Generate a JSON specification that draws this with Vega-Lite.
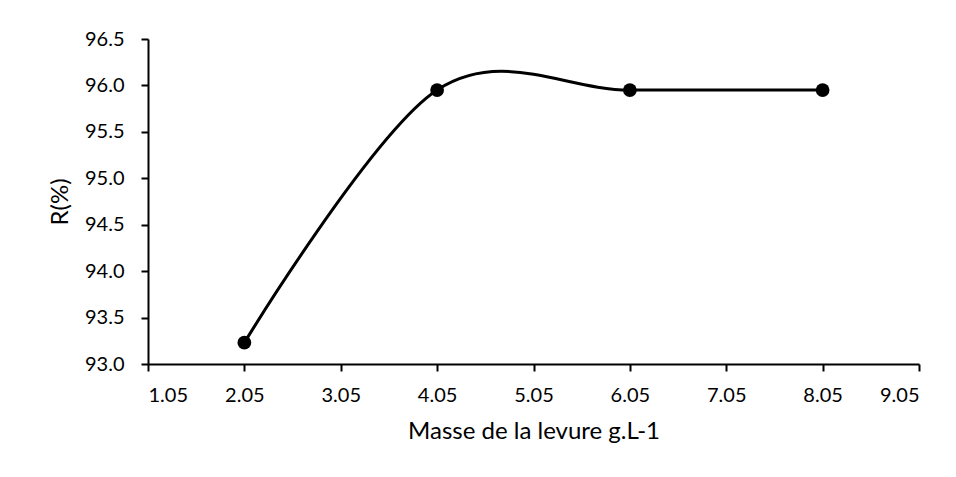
{
  "$schema": "https://vega.github.io/schema/vega-lite/v6.json",
  "width": 771,
  "height": 325,
  "autosize": {"type": "none"},
  "padding": {"left": 148, "top": 39, "right": 37, "bottom": 113},
  "background": "white",
  "config": {"view": {"stroke": null}, "font": "Lato"},
  "data": {"values": [
    {"x": 2.05, "r": 93.23},
    {"x": 4.05, "r": 95.95},
    {"x": 6.05, "r": 95.95},
    {"x": 8.05, "r": 95.95}
  ]},
  "encoding": {
    "x": {"field": "x", "type": "quantitative",
      "scale": {"domain": [1.05, 9.05], "nice": false, "zero": false},
      "axis": {"values": [1.05, 2.05, 3.05, 4.05, 5.05, 6.05, 7.05, 8.05, 9.05], "format": ".2f",
        "title": "Masse de la levure g.L-1", "grid": false, "domainColor": "black", "domainWidth": 2,
        "tickColor": "black", "tickWidth": 2, "tickSize": 7, "labelFontSize": 20, "labelColor": "#000",
        "labelPadding": 14, "titleFontSize": 24, "titleFontWeight": "normal", "titleColor": "#000", "titlePadding": 14}},
    "y": {"field": "r", "type": "quantitative",
      "scale": {"domain": [93, 96.5], "nice": false, "zero": false},
      "axis": {"values": [93, 93.5, 94, 94.5, 95, 95.5, 96, 96.5], "format": ".1f",
        "title": "R(%)", "grid": false, "domainColor": "black", "domainWidth": 2,
        "tickColor": "black", "tickWidth": 2, "tickSize": 7, "labelFontSize": 20, "labelColor": "#000",
        "labelPadding": 17, "titleFontSize": 24, "titleFontWeight": "normal", "titleColor": "#000", "titlePadding": 12}}
  },
  "layer": [
    {"mark": {"type": "line", "interpolate": "cardinal", "color": "black", "strokeWidth": 3}},
    {"mark": {"type": "point", "filled": true, "color": "black", "opacity": 1, "size": 190}}
  ]
}
